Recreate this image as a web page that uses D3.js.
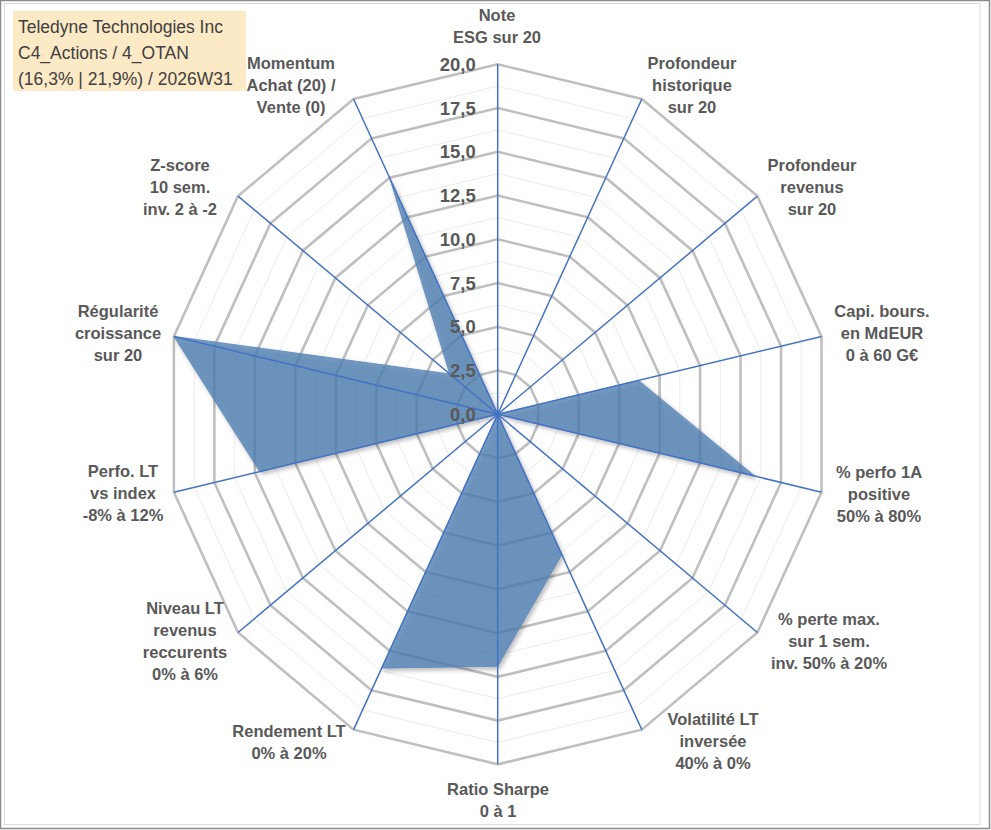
<!DOCTYPE html>
<html><head><meta charset="utf-8">
<script src="https://cdn.jsdelivr.net/npm/d3@7"></script>
<style>
html,body{margin:0;padding:0;background:#fff;}
svg{display:block;}
</style></head>
<body>
<svg id="chart" width="991" height="830"></svg>
<script>
// ---------- DATA ----------
const categories = [
  ["Note","ESG sur 20"],
  ["Profondeur","historique","sur 20"],
  ["Profondeur","revenus","sur 20"],
  ["Capi. bours.","en MdEUR","0 à 60 G€"],
  ["% perfo 1A","positive","50% à 80%"],
  ["% perte max.","sur 1 sem.","inv. 50% à 20%"],
  ["Volatilité LT","inversée","40% à 0%"],
  ["Ratio Sharpe","0 à 1"],
  ["Rendement LT","0% à 20%"],
  ["Niveau LT","revenus","reccurents","0% à 6%"],
  ["Perfo. LT","vs index","-8% à 12%"],
  ["Régularité","croissance","sur 20"],
  ["Z-score","10 sem.","inv. 2 à -2"],
  ["Momentum","Achat (20) /","Vente (0)"]
];
const values = [0, 0, 0, 8.7, 15.9, 0, 8.9, 14.4, 16.1, 0, 14.7, 20, 3.7, 15.0];
const tickValues = [0, 2.5, 5, 7.5, 10, 12.5, 15, 17.5, 20];
const tickLabels = ["0,0","2,5","5,0","7,5","10,0","12,5","15,0","17,5","20,0"];
const minorValues = [1.25, 3.75, 6.25, 8.75, 11.25, 13.75, 16.25, 18.75];
const titleLines = ["Teledyne Technologies Inc", "C4_Actions / 4_OTAN", "(16,3% | 21,9%) / 2026W31"];

// ---------- LAYOUT ----------
const cx = 497.7, cy = 414.3, R = 350, kx = 0.949;
const labelCenters = [[497,26],[692,85],[812,187],[882,333],[879,494],[829,641],[713,741],
                      [498,800],[289,742],[185,641],[123,493],[118,333],[180,187],[291,85]];

const svg = d3.select("#chart");
const n = categories.length;
const rScale = d3.scaleLinear().domain([0, 20]).range([0, R]);
const aScale = d3.scaleLinear().domain([0, n]).range([0, 2 * Math.PI]);
const pt = (i, v) => [cx + rScale(v) * Math.sin(aScale(i)) * kx, cy - rScale(v) * Math.cos(aScale(i))];
const ring = v => d3.range(n).map(i => pt(i, v));
const closed = d3.line().curve(d3.curveLinearClosed);

// frame
svg.append("rect").attr("x",0.5).attr("y",0.5).attr("width",989).attr("height",828)
  .attr("fill","#fff").attr("stroke","#8c8c8c").attr("stroke-width",1.5);
svg.append("rect").attr("x",4.5).attr("y",3.5).attr("width",975.5).attr("height",821)
  .attr("fill","none").attr("stroke","#d9d9d9").attr("stroke-width",1);

const defs = svg.append("defs");
const f = defs.append("filter").attr("id","sh").attr("x","-10%").attr("y","-10%").attr("width","130%").attr("height","130%");
f.append("feDropShadow").attr("dx",2).attr("dy",2.5).attr("stdDeviation",2)
  .attr("flood-color","#000").attr("flood-opacity",0.35);

// minor grid
svg.append("g").selectAll("path").data(minorValues).join("path")
  .attr("d", v => closed(ring(v))).attr("fill","none")
  .attr("stroke","#ececec").attr("stroke-width",1);
// major grid
svg.append("g").selectAll("path").data(tickValues.filter(v => v > 0)).join("path")
  .attr("d", v => closed(ring(v))).attr("fill","none")
  .attr("stroke","#bfbfbf").attr("stroke-width",2.6).attr("stroke-linejoin","miter");

// data area
svg.append("path").attr("d", closed(values.map((v, i) => pt(i, v))))
  .attr("fill","#4d7db1").attr("fill-opacity",0.75)
  .attr("stroke","#5b86bb").attr("stroke-width",0.8)
  .attr("filter","url(#sh)");

// axis spokes
svg.append("g").selectAll("line").data(d3.range(n)).join("line")
  .attr("x1", cx).attr("y1", cy)
  .attr("x2", i => pt(i, 20)[0]).attr("y2", i => pt(i, 20)[1])
  .attr("stroke","#4472c4").attr("stroke-width",1.5);

// tick labels
svg.append("g").selectAll("text").data(tickValues).join("text")
  .attr("x", cx - 22).attr("y", v => cy - rScale(v))
  .attr("text-anchor","end").attr("dominant-baseline","central")
  .attr("font-family","Liberation Sans, Arial, sans-serif").attr("font-weight","bold")
  .attr("font-size","18.5px").attr("fill","#595959")
  .text((v, i) => tickLabels[i]);

// category labels
const lh = 21.7;
const lg = svg.append("g").attr("font-family","Liberation Sans, Arial, sans-serif")
  .attr("font-weight","bold").attr("font-size","16.5px").attr("fill","#595959")
  .attr("text-anchor","middle");
categories.forEach((lines, i) => {
  const [x, y] = labelCenters[i];
  const t = lg.append("text");
  lines.forEach((s, j) => {
    t.append("tspan").attr("x", x).attr("y", y + (j - (lines.length - 1) / 2) * lh)
      .attr("dominant-baseline","central").text(s);
  });
});

// title box
svg.append("rect").attr("x",13).attr("y",11).attr("width",233).attr("height",80).attr("fill","#fce9c5");
svg.append("g").selectAll("text").data(titleLines).join("text")
  .attr("x",18).attr("y",(d, i) => 33 + i * 26)
  .attr("font-family","Liberation Sans, Arial, sans-serif").attr("font-size","17.5px")
  .attr("fill","#404040").text(d => d);
</script>
</body></html>
